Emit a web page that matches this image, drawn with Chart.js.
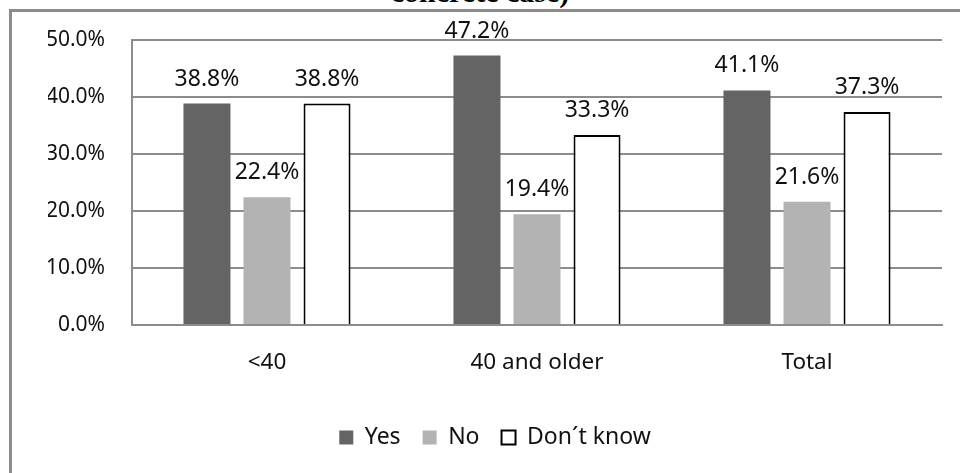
<!DOCTYPE html>
<html>
<head>
<meta charset="utf-8">
<script src="https://cdn.jsdelivr.net/npm/chart.js@4.4.1/dist/chart.umd.min.js"></script>
<style>
  html, body { margin: 0; padding: 0; background: #fff; overflow: hidden; }
  #frame { position: absolute; left: 9px; top: 9px; width: 1000px; height: 1000px;
    border-left: 3px solid #8c8c8c; border-top: 3px solid #8c8c8c; }
  #title { position: absolute; left: 0; top: -23px; width: 960px; text-align: center;
    font: bold 30px 'Liberation Serif', 'Times New Roman', serif; line-height: 30px; color: #000; }
  #wrap { position: absolute; left: 0; top: 0; width: 960px; height: 473px; }
</style>
</head>
<body>
<div id="frame"></div>
<div id="title">concrete case)</div>
<div id="wrap"><canvas id="c"></canvas></div>
<script>
// categories, series and ticks
const categories = ['<40', '40 and older', 'Total'];
const yesValues = [38.8, 47.2, 41.1];
const noValues = [22.4, 19.4, 21.6];
const dontKnowValues = [38.8, 33.3, 37.3];
const yTicks = [0, 10, 20, 30, 40, 50];

Chart.defaults.font.family = "'Noto Sans', 'Open Sans', sans-serif";
Chart.defaults.color = '#111';

// value labels above each bar
const valueLabels = {
  id: 'valueLabels',
  afterDatasetsDraw(chart) {
    const ctx = chart.ctx;
    ctx.save();
    ctx.font = "23px 'Noto Sans', 'Open Sans', sans-serif";
    ctx.fillStyle = '#111';
    ctx.textAlign = 'center';
    ctx.textBaseline = 'alphabetic';
    chart.data.datasets.forEach(function (ds, i) {
      chart.getDatasetMeta(i).data.forEach(function (bar, j) {
        ctx.fillText(ds.data[j].toFixed(1) + '%', bar.x, bar.y - 18);
      });
    });
    ctx.restore();
  }
};

new Chart(document.getElementById('c'), {
  type: 'bar',
  data: {
    labels: categories,
    datasets: [
      { label: 'Yes', data: yesValues, backgroundColor: '#646464', borderWidth: 0 },
      { label: 'No', data: noValues, backgroundColor: '#b3b3b3', borderWidth: 0 },
      { label: 'Don\u00b4t know', data: dontKnowValues, backgroundColor: '#ffffff',
        borderColor: '#000', borderWidth: 2 }
    ]
  },
  options: {
    responsive: true,
    maintainAspectRatio: false,
    animation: false,
    categoryPercentage: 0.667,
    barPercentage: 0.783,
    layout: { padding: { left: 48, right: 18, top: 38, bottom: 14 } },
    scales: {
      x: {
        grid: { display: false, drawTicks: false },
        border: { display: true, color: '#8c8c8c', width: 2 },
        ticks: { padding: 24, font: { size: 22.5 }, color: '#111' },
        afterFit(scale) { scale.height = 79; }
      },
      y: {
        min: 0, max: 50,
        afterBuildTicks(scale) { scale.ticks = yTicks.map(function (v) { return { value: v }; }); },
        grid: { color: '#8c8c8c', lineWidth: 2, drawTicks: false },
        border: { display: true, color: '#8c8c8c', width: 2 },
        ticks: {
          padding: 27, font: { size: 21 }, color: '#111',
          callback: function (v) { return v.toFixed(1) + '%'; }
        },
        afterFit(scale) { scale.width = 84; }
      }
    },
    plugins: {
      legend: {
        position: 'bottom',
        labels: { boxWidth: 14, boxHeight: 14, padding: 22, font: { size: 23 }, color: '#111' }
      },
      tooltip: { enabled: false }
    }
  },
  plugins: [valueLabels]
});
</script>
</body>
</html>
